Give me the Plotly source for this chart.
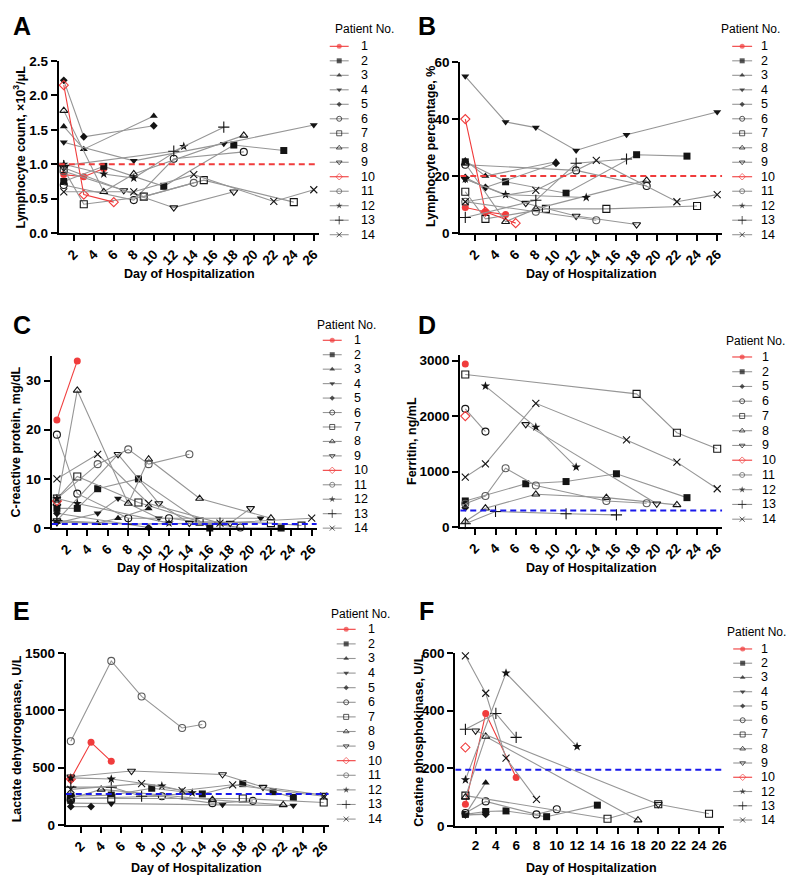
import plotly.graph_objects as go

W, H = 790, 887
FONT = "Liberation Sans, Arial, sans-serif"
GREY = "rgb(150,150,150)"
RED = "rgb(240,60,60)"
BLUE = "rgb(25,25,235)"

# ---------------- DATA (day of hospitalization, value) ----------------
lymph_count = {
    1: ([1, 3, 5], [0.85, 0.82, 0.94]),
    2: ([1, 5, 11, 18, 23], [0.75, 0.97, 0.68, 1.28, 1.20]),
    3: ([1, 3, 10], [1.55, 1.22, 1.70]),
    4: ([1, 8, 17, 26], [1.32, 1.05, 1.30, 1.57]),
    5: ([1, 3, 10], [2.22, 1.40, 1.56]),
    6: ([1, 8, 12, 19], [0.70, 0.48, 1.08, 1.18]),
    7: ([1, 3, 9, 15, 24], [0.93, 0.42, 0.53, 0.77, 0.45]),
    8: ([1, 5, 8, 19], [1.78, 0.60, 0.86, 1.42]),
    9: ([1, 7, 12, 18], [0.95, 0.62, 0.37, 0.60]),
    10: ([1, 3, 6], [2.15, 0.56, 0.45]),
    11: ([1, 9, 14], [0.90, 0.53, 0.73]),
    12: ([1, 5, 8, 13], [1.00, 0.86, 0.80, 1.26]),
    13: ([1, 12, 17], [0.98, 1.19, 1.54]),
    14: ([1, 8, 14, 22, 26], [0.60, 0.60, 0.85, 0.46, 0.63]),
}
lymph_pct = {
    1: ([1, 3, 5], [9, 7.5, 6.5]),
    2: ([1, 5, 11, 18, 23], [25, 18, 14, 27.5, 27]),
    3: ([1, 3, 10], [25.5, 20, 25]),
    4: ([1, 5, 8, 12, 17, 26], [55, 39, 37, 29, 34.5, 42.5]),
    5: ([1, 3, 10], [19.5, 16, 24.5]),
    6: ([1, 12, 19], [24, 22, 16.5]),
    7: ([1, 3, 9, 15, 24], [14.5, 5, 8.5, 8.5, 9.5]),
    8: ([1, 5, 8, 19], [24.5, 4, 8.5, 18.5]),
    9: ([1, 7, 12, 18], [19, 10.5, 6, 3]),
    10: ([1, 3, 6], [40, 7.5, 3.5]),
    11: ([1, 8, 14], [11, 7.5, 4.5]),
    12: ([1, 5, 13], [19, 13.5, 12.5]),
    13: ([1, 8, 12, 17], [5.5, 11.5, 24.5, 26]),
    14: ([1, 8, 14, 22, 26], [11, 15, 25.5, 11, 13.5]),
}
crp = {
    1: ([1, 3], [22, 34]),
    2: ([1, 3, 5, 9, 16, 23], [4, 4, 8, 10, 0, 0]),
    3: ([1, 5, 7, 10], [1.2, 1, 2, 4]),
    4: ([1, 5, 7, 11, 21], [1, 3, 6, 2, 2]),
    5: ([1, 10], [3, 0.1]),
    6: ([1, 3, 8, 12, 19], [19, 7, 2, 2, 0.1]),
    7: ([1, 3, 9, 15, 22, 25], [6, 10.5, 5.2, 1.3, 1, 0.5]),
    8: ([1, 3, 8, 10, 15, 22], [5, 28, 5, 14, 6, 2]),
    9: ([1, 7, 11, 14, 18, 20], [1.5, 15, 5, 1, 1, 4]),
    10: ([1], [5.5]),
    11: ([1, 5, 8, 10, 14], [6, 13, 16, 13, 15]),
    12: ([1, 3, 12], [6, 5, 1]),
    13: ([1, 8, 17], [1.5, 0.8, 1]),
    14: ([1, 5, 10, 17, 26], [10, 15, 5, 1, 2]),
}
ferritin = {
    1: ([1], [2940]),
    2: ([1, 7, 11, 16, 23], [470, 780, 820, 960, 530]),
    5: ([1], [350]),
    6: ([1, 3], [2130, 1720]),
    7: ([1, 18, 22, 26], [2750, 2400, 1700, 1410]),
    8: ([1, 3, 8, 15, 22], [100, 340, 590, 530, 400]),
    9: ([7, 20], [1850, 420]),
    10: ([1], [2000]),
    11: ([1, 3, 5, 8, 15, 19], [420, 560, 1060, 750, 470, 430]),
    12: ([3, 8, 12], [2540, 1800, 1080]),
    13: ([1, 4, 11, 16], [60, 280, 240, 220]),
    14: ([1, 3, 8, 17, 22, 26], [900, 1140, 2230, 1570, 1170, 690]),
}
ldh = {
    1: ([1, 3, 5], [400, 720, 555]),
    2: ([1, 5, 9, 14, 18, 21, 23], [250, 260, 320, 270, 360, 290, 240]),
    3: ([1], [200]),
    4: ([1, 5, 16, 23], [190, 185, 175, 170]),
    5: ([1, 3], [160, 160]),
    6: ([1, 10, 15, 19], [230, 250, 190, 210]),
    7: ([1, 5, 18, 26], [230, 230, 230, 195]),
    8: ([1, 4, 15, 22], [230, 310, 220, 175]),
    9: ([1, 7, 16, 20, 26], [420, 470, 440, 330, 260]),
    10: ([1], [400]),
    11: ([1, 5, 8, 12, 14], [730, 1430, 1120, 845, 875]),
    12: ([1, 5, 10, 13], [410, 400, 340, 280]),
    13: ([1, 5, 8, 12], [330, 330, 250, 270]),
    14: ([1, 8, 12, 17, 26], [310, 360, 300, 350, 250]),
}
cpk = {
    1: ([1, 3, 6], [75, 390, 168]),
    2: ([1, 3, 5, 9, 14], [40, 50, 52, 32, 72]),
    3: ([1, 3], [40, 150]),
    4: ([1, 3], [38, 42]),
    5: ([1, 3], [38, 40]),
    6: ([1, 3, 8, 10], [45, 85, 40, 58]),
    7: ([1, 15, 20, 25], [105, 25, 75, 42]),
    8: ([1, 3, 18], [100, 310, 20]),
    9: ([2, 20], [330, 75]),
    10: ([1], [272]),
    12: ([1, 5, 12], [160, 530, 275]),
    13: ([1, 4, 6], [335, 390, 307]),
    14: ([1, 3, 5, 8], [590, 460, 235, 92]),
}
ref_values = {"A": 1.0, "B": 20, "C": 0.8, "D": 300, "E": 270, "F": 195}
y_titles = {
    "A": "Lymphocyte count, ×10<sup>3</sup>/μL",
    "B": "Lymphocyte percentage, %",
    "C": "C-reactive protein, mg/dL",
    "D": "Ferritin, ng/mL",
    "E": "Lactate dehydrogenase, U/L",
    "F": "Creatine phosphokinase, U/L",
}
x_title = "Day of Hospitalization"
x_ticks = list(range(2, 27, 2))

# ---------------- STYLE ----------------
SYM = {1: "circle", 2: "square", 3: "triangle-up", 4: "triangle-down", 5: "diamond",
       6: "circle-open", 7: "square-open", 8: "triangle-up-open", 9: "triangle-down-open",
       10: "diamond-open", 11: "circle-open", 12: "star", 13: "cross-thin-open", 14: "x-thin-open"}
MSIZE = {1: 7, 2: 7, 3: 7, 4: 7, 5: 6, 6: 7, 7: 7, 8: 7, 9: 7, 10: 7, 11: 7, 12: 7, 13: 8, 14: 7}


def mcolor(p):
    if p in (1, 10):
        return RED
    if p == 11:
        return "rgb(90,90,90)"
    return "rgb(20,20,20)"


def lcolor(p):
    return RED if p in (1, 10) else GREY


# panel geometry in pixels: x0, x1, y0(top), y1(bottom), xrange, yrange, ytick values, tick format
panels = [
    ("A", lymph_count, (59, 320, 55, 230), [0.5, 26.5], [0, 2.5], [0, 0.5, 1, 1.5, 2, 2.5], ".1f", RED, -45,
     (19, 142), (190, 272), (22, 19), (334, 22, 331, 350, 360, 40, 14.74)),
    ("B", lymph_pct, (462, 725, 56, 230), [0.5, 26.5], [0, 60], [0, 20, 40, 60], "d", RED, -45,
     (432, 142), (594, 272), (429, 19), (722, 22, 735, 755, 762, 40, 14.74)),
    ("C", crp, (52, 318, 355, 530), [0.5, 26.5], [0, 35], [0, 10, 20, 30], "d", BLUE, -45,
     (16, 442), (183, 571), (22, 323), (316, 323, 324, 343, 353, 339, 14.7)),
    ("D", ferritin, (462, 725, 354, 529), [0.5, 26.5], [0, 3100], [0, 1000, 2000, 3000], "d", BLUE, -45,
     (413, 441), (594, 571), (429, 323), (727, 340, 735, 755, 763, 356, 15.0)),
    ("E", ldh, (66, 330, 657, 832), [0.5, 26.5], [0, 1500], [0, 500, 1000, 1500], "d", BLUE, -45,
     (17, 744), (197, 876), (22, 614), (330, 617, 338, 357, 367, 633, 14.85)),
    ("F", cpk, (457, 727, 657, 833), [0, 26.5], [0, 600], [0, 200, 400, 600], "d", BLUE, 0,
     (421, 746), (594, 876), (428, 614), (728, 636, 736, 755, 762, 653, 14.5)),
]


def px(x):
    return x / W


def py(y):
    return 1 - y / H


fig = go.Figure()
annotations = []
shapes = []
LEG = len(panels) + 1  # overlay axis index for legend keys

for i, (letter, data, (x0, x1, y0, y1), xr, yr, yt, fmt, refc, tang,
        ytpos, xtpos, letpos, leg) in enumerate(panels, start=1):
    xa = "x" if i == 1 else f"x{i}"
    ya = "y" if i == 1 else f"y{i}"
    for p, (days, vals) in data.items():
        fig.add_trace(go.Scatter(
            x=days, y=vals, mode="lines+markers", xaxis=xa, yaxis=ya,
            line=dict(color=lcolor(p), width=1.1),
            marker=dict(symbol=SYM[p], size=MSIZE[p], color=mcolor(p),
                        line=dict(color=mcolor(p), width=1.1 if "open" in SYM[p] else 0)),
            cliponaxis=False, showlegend=False, hoverinfo="skip"))
    # reference line
    shapes.append(dict(type="line", xref=xa, yref=ya, x0=xr[0], x1=xr[1],
                       y0=ref_values[letter], y1=ref_values[letter],
                       line=dict(color=refc, width=2, dash="6px,4px")))
    axkey = "xaxis" if i == 1 else f"xaxis{i}"
    aykey = "yaxis" if i == 1 else f"yaxis{i}"
    fig.update_layout({
        axkey: dict(domain=[px(x0), px(x1)], range=xr, anchor=ya, tickvals=x_ticks,
                    ticks="outside", ticklen=6, tickwidth=2, tickcolor="black",
                    showline=True, linewidth=2, linecolor="black", showgrid=False, zeroline=False,
                    tickangle=tang, tickfont=dict(family=FONT, size=13.5, color="black", weight="bold")),
        aykey: dict(domain=[py(y1), py(y0)], range=yr, anchor=xa, tickvals=yt, tickformat=fmt,
                    ticks="outside", ticklen=6, tickwidth=2, tickcolor="black",
                    showline=True, linewidth=2, linecolor="black", showgrid=False, zeroline=False,
                    tickfont=dict(family=FONT, size=13.5, color="black", weight="bold")),
    })
    # titles
    annotations.append(dict(xref="paper", yref="paper", x=px(ytpos[0]), y=py(ytpos[1]),
                            text=y_titles[letter], textangle=-90, showarrow=False,
                            xanchor="center", yanchor="middle",
                            font=dict(family=FONT, size=12.5, color="black", weight="bold")))
    annotations.append(dict(xref="paper", yref="paper", x=px(xtpos[0]), y=py(xtpos[1]),
                            text=x_title, showarrow=False, xanchor="center", yanchor="middle",
                            font=dict(family=FONT, size=12.5, color="black", weight="bold")))
    annotations.append(dict(xref="paper", yref="paper", x=px(letpos[0]), y=py(letpos[1]),
                            text=letter, showarrow=False, xanchor="center", yanchor="middle",
                            font=dict(family=FONT, size=25, color="black", weight="bold")))
    # legend (drawn on pixel overlay axis)
    tx, ty, sx0, sx1, txtx, ry0, rdy = leg
    annotations.append(dict(xref="paper", yref="paper", x=px(tx), y=py(ty), text="Patient No.",
                            showarrow=False, xanchor="left", yanchor="middle",
                            font=dict(family=FONT, size=12, color="black")))
    for k, p in enumerate(data.keys()):
        yy = ry0 + k * rdy
        fig.add_trace(go.Scatter(
            x=[sx0, (sx0 + sx1) / 2, sx1], y=[yy, yy, yy], mode="lines+markers",
            xaxis=f"x{LEG}", yaxis=f"y{LEG}",
            line=dict(color=lcolor(p), width=1.1),
            marker=dict(symbol=SYM[p], size=[0, MSIZE[p] - 2, 0], color=mcolor(p),
                        line=dict(color=mcolor(p), width=1 if "open" in SYM[p] else 0)),
            cliponaxis=False, showlegend=False, hoverinfo="skip"))
        annotations.append(dict(xref="paper", yref="paper", x=px(txtx), y=py(yy), text=str(p),
                                showarrow=False, xanchor="left", yanchor="middle",
                                font=dict(family=FONT, size=12.5, color="black")))

fig.update_layout({
    f"xaxis{LEG}": dict(domain=[0, 1], range=[0, W], anchor=f"y{LEG}", visible=False, fixedrange=True),
    f"yaxis{LEG}": dict(domain=[0, 1], range=[H, 0], anchor=f"x{LEG}", visible=False, fixedrange=True),
})

fig.update_layout(width=W, height=H, margin=dict(l=0, r=0, t=0, b=0),
                  paper_bgcolor="white", plot_bgcolor="rgba(0,0,0,0)",
                  annotations=annotations, shapes=shapes, showlegend=False)

fig.write_html("out.html", config={"displayModeBar": False, "staticPlot": True},
               post_script="document.body.style.margin='0';document.body.style.overflow='hidden';")
